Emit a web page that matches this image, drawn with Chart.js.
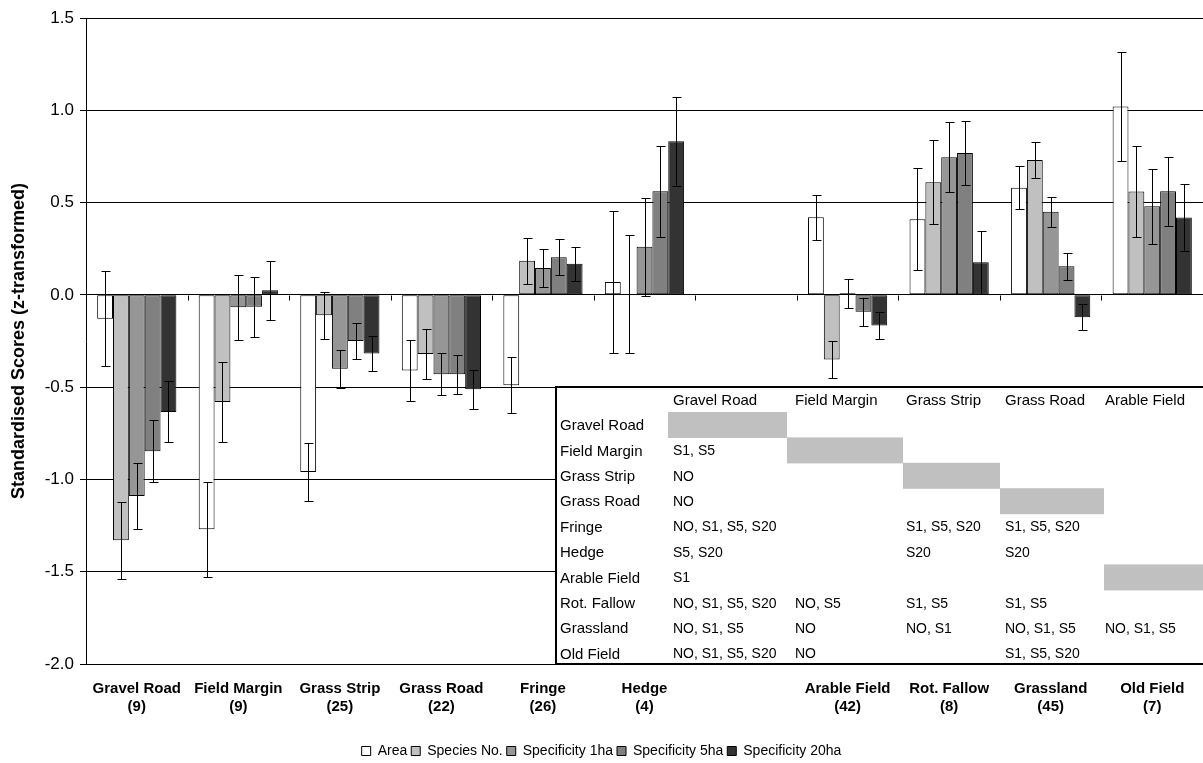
<!DOCTYPE html>
<html>
<head>
<meta charset="utf-8">
<script src="https://cdn.jsdelivr.net/npm/chart.js@4.4.1/dist/chart.umd.min.js"></script>
<style>
html,body{margin:0;padding:0;background:#fff;}
#wrap{width:1203px;height:763px;position:relative;}
</style>
</head>
<body>
<div id="wrap"><canvas id="c" width="1203" height="763"></canvas></div>
<script>
// ---- data ----
const categories = ['Gravel Road','Field Margin','Grass Strip','Grass Road','Fringe','Hedge','','Arable Field','Rot. Fallow','Grassland','Old Field'];
const counts     = ['(9)','(9)','(25)','(22)','(26)','(4)','','(42)','(8)','(45)','(7)'];

const area        = [-0.13, -1.27, -0.96, -0.41, -0.49, 0.07, null, 0.42, 0.41, 0.58, 1.02];
const areaErr     = [0.257, 0.258, 0.155, 0.165, 0.151, 0.385, null, 0.122, 0.276, 0.117, 0.296];
const species     = [-1.33, -0.58, -0.11, -0.32, 0.185, 0.005, null, -0.35, 0.61, 0.73, 0.56];
const speciesErr  = [0.21, 0.215, 0.128, 0.137, 0.125, 0.32, null, 0.098, 0.227, 0.097, 0.245];
const spec1       = [-1.09, -0.067, -0.40, -0.43, 0.146, 0.26, null, 0.009, 0.746, 0.45, 0.48];
const spec1Err    = [0.177, 0.176, 0.103, 0.113, 0.103, 0.265, null, 0.078, 0.19, 0.082, 0.202];
const spec5       = [-0.847, -0.065, -0.25, -0.43, 0.204, 0.561, null, -0.092, 0.769, 0.155, 0.561];
const spec5Err    = [0.167, 0.164, 0.098, 0.105, 0.098, 0.245, null, 0.075, 0.174, 0.073, 0.188];
const spec20      = [-0.634, 0.025, -0.318, -0.512, 0.168, 0.832, null, -0.166, 0.177, -0.121, 0.419];
const spec20Err   = [0.165, 0.16, 0.095, 0.104, 0.093, 0.24, null, 0.074, 0.17, 0.07, 0.183];

const seriesNames = ['Area','Species No.','Specificity 1ha','Specificity 5ha','Specificity 20ha'];
const yTicks = [1.5, 1.0, 0.5, 0.0, -0.5, -1.0, -1.5, -2.0];

// table of significant differences
const tableCols = ['Gravel Road','Field Margin','Grass Strip','Grass Road','Arable Field'];
const tableRows = ['Gravel Road','Field Margin','Grass Strip','Grass Road','Fringe','Hedge','Arable Field','Rot. Fallow','Grassland','Old Field'];
const tableCells = [
  ['', '', '', '', ''],
  ['S1, S5', '', '', '', ''],
  ['NO', '', '', '', ''],
  ['NO', '', '', '', ''],
  ['NO, S1, S5, S20', '', 'S1, S5, S20', 'S1, S5, S20', ''],
  ['S5, S20', '', 'S20', 'S20', ''],
  ['S1', '', '', '', ''],
  ['NO, S1, S5, S20', 'NO, S5', 'S1, S5', 'S1, S5', ''],
  ['NO, S1, S5', 'NO', 'NO, S1', 'NO, S1, S5', 'NO, S1, S5'],
  ['NO, S1, S5, S20', 'NO', '', 'S1, S5, S20', '']
];
const grayCells = [[0,0],[1,1],[2,2],[3,3],[6,4]];

// ---- styles ----
const fills = ['#ffffff','#c0c0c0','#969696','#808080','#333333'];
const values = [area, species, spec1, spec5, spec20];
const errs = [areaErr, speciesErr, spec1Err, spec5Err, spec20Err];
const FONT = '"Liberation Sans", Arial, sans-serif';

const labels = categories.map((c,i)=> c ? [c, counts[i]] : '');

const errorBars = {
  id:'errorBars',
  afterDatasetsDraw(chart){
    const ctx = chart.ctx, ys = chart.scales.y;
    ctx.save();
    ctx.strokeStyle = '#000';
    ctx.lineWidth = 1;
    chart.data.datasets.forEach((ds, di)=>{
      const meta = chart.getDatasetMeta(di);
      meta.data.forEach((el, j)=>{
        const v = ds.data[j], e = errs[di][j];
        if (v == null || e == null) return;
        const x = Math.round(el.x) + 0.5;
        const y1 = Math.round(ys.getPixelForValue(v + e)) + 0.5;
        const y2 = Math.round(ys.getPixelForValue(v - e)) + 0.5;
        ctx.beginPath();
        ctx.moveTo(x, y1); ctx.lineTo(x, y2);
        ctx.moveTo(x-4, y1); ctx.lineTo(x+5, y1);
        ctx.moveTo(x-4, y2); ctx.lineTo(x+5, y2);
        ctx.stroke();
      });
    });
    // category tick marks on zero line
    const xs = chart.scales.x;
    const y0 = Math.round(ys.getPixelForValue(0)) + 0.5;
    const n = categories.length;
    const cw = (xs.right - xs.left) / n;
    ctx.beginPath();
    for (let i = 1; i < n; i++) {
      const x = Math.round(xs.left + i*cw) + 0.5;
      ctx.moveTo(x, y0); ctx.lineTo(x, y0 + 5);
    }
    ctx.stroke();
    ctx.restore();
  }
};

const sigTable = {
  id:'sigTable',
  afterDraw(chart){
    const ctx = chart.ctx, ys = chart.scales.y, xs = chart.scales.x;
    const n = categories.length;
    const cw = (xs.right - xs.left) / n;
    const top = Math.round(ys.getPixelForValue(-0.5));
    const bottom = Math.round(ys.getPixelForValue(-2.0));
    const left = Math.round(xs.left + 4.63*cw);
    const right = chart.width + 5;
    ctx.save();
    ctx.fillStyle = '#fff';
    ctx.fillRect(left, top, right-left, bottom-top);
    // column positions (relative to table left)
    const colText = [117, 239, 350, 449, 549];
    const colEdge = [112, 231, 347, 444, 548, 660];
    const rowY0 = 39, rowStep = 25.4, headY = 14;
    // gray cells
    ctx.fillStyle = '#c0c0c0';
    grayCells.forEach(([r,c])=>{
      const cy = top + rowY0 + r*rowStep - 1;
      ctx.fillRect(left + colEdge[c], cy - 13, colEdge[c+1]-colEdge[c], 26);
    });
    ctx.fillStyle = '#000';
    ctx.textBaseline = 'middle';
    ctx.textAlign = 'left';
    ctx.font = '15px ' + FONT;
    tableCols.forEach((t,c)=> ctx.fillText(t, left + colText[c], top + headY));
    tableRows.forEach((t,r)=> ctx.fillText(t, left + 4, top + rowY0 + r*rowStep));
    ctx.font = '14px ' + FONT;
    tableCells.forEach((row,r)=> row.forEach((t,c)=>{
      if (t) ctx.fillText(t, left + colText[c], top + rowY0 + r*rowStep);
    }));
    // border
    ctx.strokeStyle = '#000';
    ctx.lineWidth = 2;
    ctx.strokeRect(left, top, right-left, bottom-top);
    ctx.restore();
  }
};

new Chart(document.getElementById('c'), {
  type:'bar',
  data:{
    labels: labels,
    datasets: seriesNames.map((name,i)=>({
      label: name,
      data: values[i],
      backgroundColor: fills[i],
      borderColor: '#000',
      borderWidth: 1,
      borderSkipped: false,
      categoryPercentage: 0.78,
      barPercentage: 1.0
    }))
  },
  options:{
    responsive:false,
    animation:false,
    devicePixelRatio:1,
    layout:{padding:{top:18, right:0, left:0, bottom:-5}},
    plugins:{
      legend:{
        position:'bottom',
        labels:{
          color:'#000',
          font:{family:FONT, size:14},
          boxWidth:9, boxHeight:9, padding:4
        }
      },
      tooltip:{enabled:false}
    },
    scales:{
      x:{
        afterFit(scale){ scale.height = 76; },
        grid:{display:false, drawTicks:false},
        border:{display:false},
        ticks:{
          color:'#000',
          font:{family:FONT, size:15, weight:'bold', lineHeight:'18px'},
          padding:16,
          maxRotation:0, autoSkip:false
        }
      },
      y:{
        min:-2.0, max:1.5,
        afterBuildTicks(scale){ scale.ticks = yTicks.map(v=>({value:v})); },
        afterFit(scale){ scale.width = 86; },
        grid:{color:'#000', lineWidth:1, tickLength:6, tickColor:'#000'},
        border:{color:'#000', width:1},
        ticks:{
          color:'#000',
          font:{family:FONT, size:17},
          padding:6,
          callback:(v)=> Number(v).toFixed(1)
        },
        title:{
          display:true,
          text:'Standardised Scores (z-transformed)',
          color:'#000',
          font:{family:FONT, size:18, weight:'bold'},
          padding:{top:8, bottom:0}
        }
      }
    }
  },
  plugins:[errorBars, sigTable]
});
</script>
</body>
</html>
